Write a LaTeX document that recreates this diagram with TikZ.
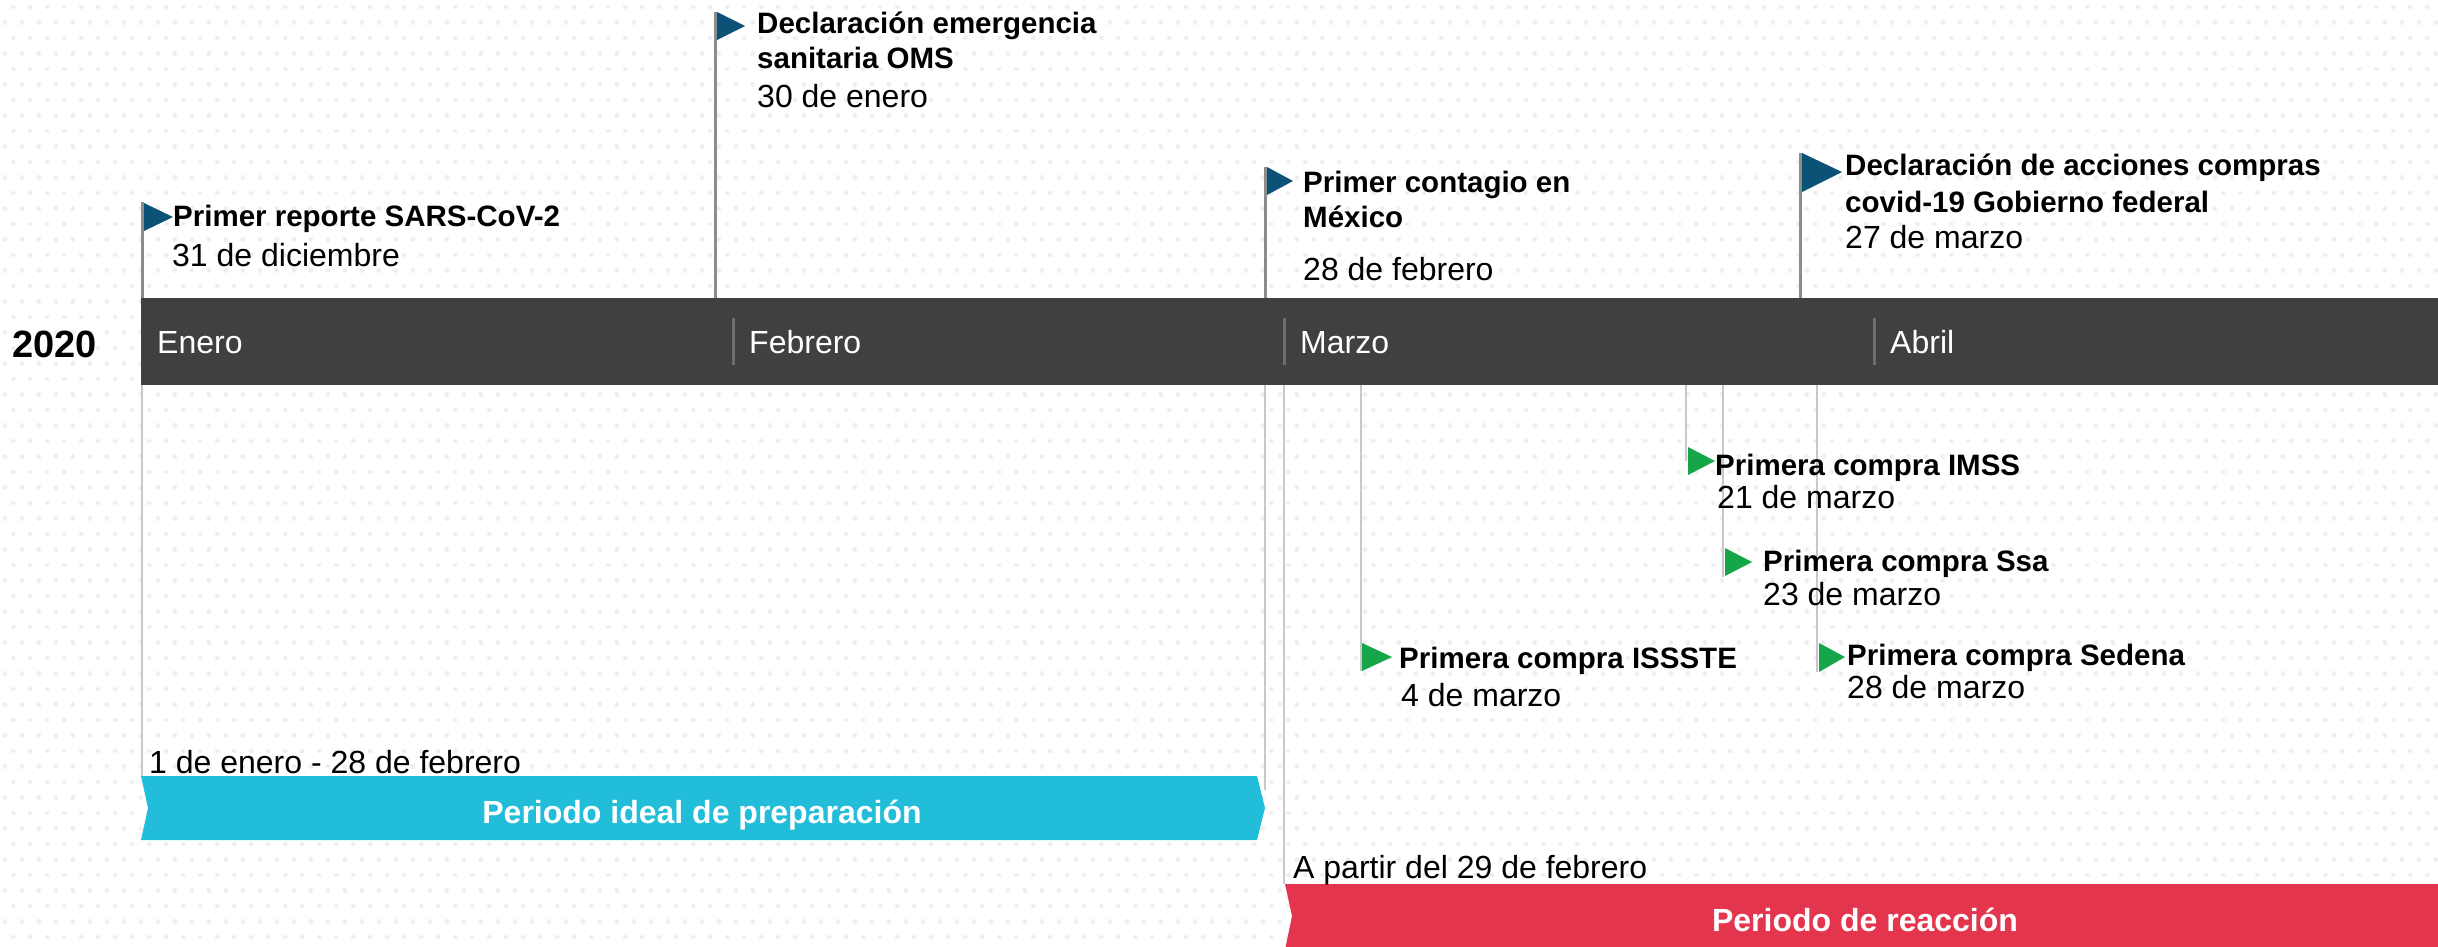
\documentclass[tikz,border=0pt]{standalone}
\usepackage{fontspec}
\setmainfont{Liberation Sans}
\definecolor{barc}{RGB}{64,64,64}
\definecolor{flagblue}{RGB}{12,82,118}
\definecolor{flaggreen}{RGB}{22,166,74}
\definecolor{cyanbar}{RGB}{33,189,217}
\definecolor{redbar}{RGB}{227,53,78}
\definecolor{dotc}{RGB}{239,239,239}
\definecolor{poledark}{RGB}{140,140,140}
\definecolor{polelight}{RGB}{200,200,200}
\definecolor{divc}{RGB}{110,110,110}
\begin{document}
\begin{tikzpicture}[x=1pt,y=-1pt,
  lbl/.style={anchor=base west,inner sep=0pt,font=\fontsize{32}{38}\selectfont},
  blbl/.style={anchor=base west,inner sep=0pt,font=\fontsize{29.5}{35}\selectfont\bfseries},
  wlbl/.style={lbl,text=white},
  plbl/.style={anchor=base,inner sep=0pt,text=white,font=\fontsize{32}{38}\selectfont\bfseries},
  poleup/.style={draw=poledark,line width=3pt},
  poledown/.style={draw=polelight,line width=2.5pt},
  divider/.style={draw=divc,line width=3pt},
  blueflag/.style={fill=flagblue},
  greenflag/.style={fill=flaggreen},
  dotrow/.style={draw=dotc,line width=4.8pt,line cap=round,dash pattern=on 0.01pt off 16.99pt}]
\useasboundingbox (0,0) rectangle (2438,946);
\fill[white] (0,0) rectangle (2438,946);
% dotted background
\foreach \r in {0,...,61}{
  \pgfmathsetmacro\xs{-3.7+8.5*mod(\r,2)}
  \pgfmathsetmacro\ys{7+15.5*\r}
  \draw[dotrow] (\xs,\ys) -- (2450,\ys);
}
% pole coordinates
\coordinate (p1t) at (142,202);
\coordinate (p2t) at (715,12);
\coordinate (p3t) at (1265,167);
\coordinate (p4t) at (1800,153);
\coordinate (p1b) at (142,300);
\coordinate (p2b) at (715,300);
\coordinate (p3b) at (1265,300);
\coordinate (p4b) at (1800,300);
\draw[poleup] (p1t) -- (p1b);
\draw[poleup] (p2t) -- (p2b);
\draw[poleup] (p3t) -- (p3b);
\draw[poleup] (p4t) -- (p4b);
% lines below bar
\coordinate (q1t) at (142,384); \coordinate (q1b) at (142,776);
\coordinate (q2t) at (1265,384); \coordinate (q2b) at (1265,790);
\coordinate (q3t) at (1284,384); \coordinate (q3b) at (1284,884);
\coordinate (q4t) at (1361,384); \coordinate (q4b) at (1361,671);
\coordinate (q5t) at (1686,384); \coordinate (q5b) at (1686,461);
\coordinate (q6t) at (1723,384); \coordinate (q6b) at (1723,577);
\coordinate (q7t) at (1817,384); \coordinate (q7b) at (1817,672);
\foreach \i in {1,...,7}{\draw[poledown] (q\i t) -- (q\i b);}
% timeline bar
\fill[barc] (141,298) rectangle (2438,385);
\draw[divider] (733,318) -- (733,365);
\draw[divider] (1284,318) -- (1284,365);
\draw[divider] (1874,318) -- (1874,365);
\node[wlbl] (m1) at (157,353) {Enero};
\node[wlbl] (m2) at (749,353) {Febrero};
\node[wlbl] (m3) at (1300,353) {Marzo};
\node[wlbl] (m4) at (1890,353) {Abril};
\node[anchor=base west,inner sep=0pt,font=\fontsize{38}{42}\selectfont\bfseries] (year) at (12,357) {2020};
% blue flags
\fill[blueflag] (144,203) -- (173,217) -- (144,231) -- cycle;
\fill[blueflag] (717,12) -- (745,26) -- (717,40) -- cycle;
\fill[blueflag] (1267,167) -- (1293,181) -- (1267,195) -- cycle;
\fill[blueflag] (1802,153) -- (1842,172) -- (1802,192) -- cycle;
% green flags
\fill[greenflag] (1362,643) -- (1392,657) -- (1362,671) -- cycle;
\fill[greenflag] (1688,447) -- (1715,461) -- (1688,475) -- cycle;
\fill[greenflag] (1725,548) -- (1752,562) -- (1725,576) -- cycle;
\fill[greenflag] (1819,643) -- (1845,657) -- (1819,672) -- cycle;
% event texts
\node[blbl] (e1a) at (173,226) {Primer reporte SARS-CoV-2};
\node[lbl] (e1d) at (172,266) {31 de diciembre};
\node[blbl] (e2a) at (757,33) {Declaración emergencia};
\node[blbl] (e2b) at (757,68) {sanitaria OMS};
\node[lbl] (e2d) at (757,107) {30 de enero};
\node[blbl] (e3a) at (1303,192) {Primer contagio en};
\node[blbl] (e3b) at (1303,227) {México};
\node[lbl] (e3d) at (1303,280) {28 de febrero};
\node[blbl] (e4a) at (1845,175) {Declaración de acciones compras};
\node[blbl] (e4b) at (1845,212) {covid-19 Gobierno federal};
\node[lbl] (e4d) at (1845,248) {27 de marzo};
\node[blbl] (g1a) at (1399,668) {Primera compra ISSSTE};
\node[lbl] (g1d) at (1401,706) {4 de marzo};
\node[blbl] (g2a) at (1715,475) {Primera compra IMSS};
\node[lbl] (g2d) at (1717,508) {21 de marzo};
\node[blbl] (g3a) at (1763,571) {Primera compra Ssa};
\node[lbl] (g3d) at (1763,605) {23 de marzo};
\node[blbl] (g4a) at (1847,665) {Primera compra Sedena};
\node[lbl] (g4d) at (1847,698) {28 de marzo};
% periods
\fill[cyanbar] (141,776) -- (1257,776) -- (1265,808) -- (1257,840) -- (141,840) -- (148,808) -- cycle;
\fill[redbar] (1285,884) -- (2438,884) -- (2438,950) -- (1285,950) -- (1292,916) -- cycle;
\node[lbl] (r1) at (149,773) {1 de enero - 28 de febrero};
\node[lbl] (r2) at (1293,878) {A partir del 29 de febrero};
\node[plbl] (r1p) at (702,823) {Periodo ideal de preparación};
\node[plbl] (r2p) at (1865,931) {Periodo de reacción};
\end{tikzpicture}
\end{document}
